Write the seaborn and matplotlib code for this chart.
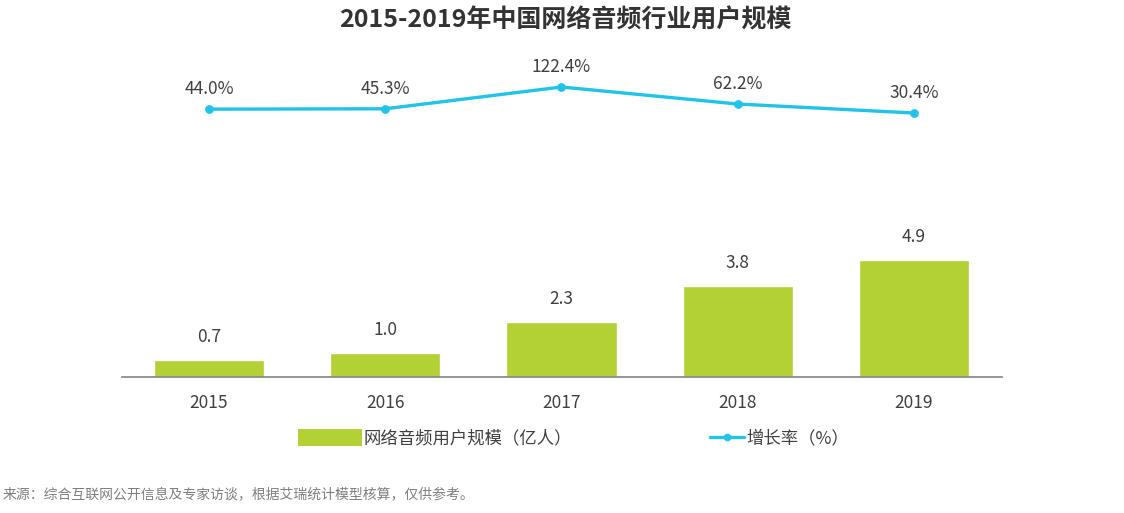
import pandas as pd
import matplotlib.pyplot as plt
import seaborn as sns
from matplotlib.patches import Patch
from matplotlib.lines import Line2D

years = ['2015', '2016', '2017', '2018', '2019']
users = [0.7, 1.0, 2.3, 3.8, 4.9]
growth = [44.0, 45.3, 122.4, 62.2, 30.4]
title = '2015-2019年中国网络音频行业用户规模'
bar_name = '网络音频用户规模（亿人）'
line_name = '增长率（%）'
source = '来源：综合互联网公开信息及专家访谈，根据艾瑞统计模型核算，仅供参考。'

bar_color = '#b3d034'
line_color = '#21c3e8'
text_color = '#404040'

sns.set_theme(style='white')
plt.rcParams['font.family'] = ['Noto Sans CJK SC', 'DejaVu Sans']

df = pd.DataFrame({'year': years, 'users': users, 'growth': growth})

fig = plt.figure(figsize=(11.24, 5.13), dpi=100)
# axes box: x 122..1002 px, y 60..377 px (from top)
ax = fig.add_axes([122 / 1124, (513 - 377) / 513, 880 / 1124, 317 / 513])
sns.barplot(data=df, x='year', y='users', color=bar_color, width=0.625,
            saturation=1, ax=ax)
ax.set_ylim(0, 317 / 23.9)
for i, v in enumerate(users):
    ax.annotate(f'{v:.1f}', (i, v), xytext=(0, 10), textcoords='offset points',
                ha='center', va='bottom', fontsize=12.5, color=text_color)

ax2 = ax.twinx()
sns.pointplot(data=df, x='year', y='growth', color=line_color, ax=ax2,
              markers='o', linewidth=2.4, markersize=4.5)
ax2.set_ylim(30.4 - 264 / 0.2826, 30.4 + 53 / 0.2826)
for i, v in enumerate(growth):
    ax2.annotate(f'{v:.1f}%', (i, v), xytext=(0, 8), textcoords='offset points',
                 ha='center', va='bottom', fontsize=12.5, color=text_color)

for a in (ax, ax2):
    a.set_xlim(-0.494, 4.5)
    a.set_xlabel('')
    a.set_ylabel('')
    a.set_yticks([])
    for s in ('top', 'left', 'right', 'bottom'):
        a.spines[s].set_visible(False)
ax.spines['bottom'].set_visible(True)
ax.spines['bottom'].set_color('#8c8c8c')
ax.spines['bottom'].set_linewidth(1.3)
ax.tick_params(axis='x', length=0, pad=12, labelsize=12.5, labelcolor=text_color)

handles = [Patch(facecolor=bar_color, edgecolor='none'),
           Line2D([0], [0], color=line_color, lw=2.4, marker='o', markersize=4.5)]
fig.legend(handles[:1], [bar_name], loc='center left',
           bbox_to_anchor=(282 / 1124, 1 - 438 / 513), frameon=False,
           fontsize=12.5, labelcolor=text_color, handlelength=3.7, handleheight=1.1,
           handletextpad=0.1)
fig.legend(handles[1:], [line_name], loc='center left',
           bbox_to_anchor=(694 / 1124, 1 - 438 / 513), frameon=False,
           fontsize=12.5, labelcolor=text_color, handlelength=2.0,
           handletextpad=0.1)

fig.text(565 / 1124, 1 - 20 / 513, title, ha='center', va='center',
         fontsize=18, fontweight='bold', color='#333333')
fig.text(3 / 1124, 1 - 494 / 513, source, ha='left', va='center',
         fontsize=10, color='#7f7f7f')

fig.savefig('out.png', dpi=100)
